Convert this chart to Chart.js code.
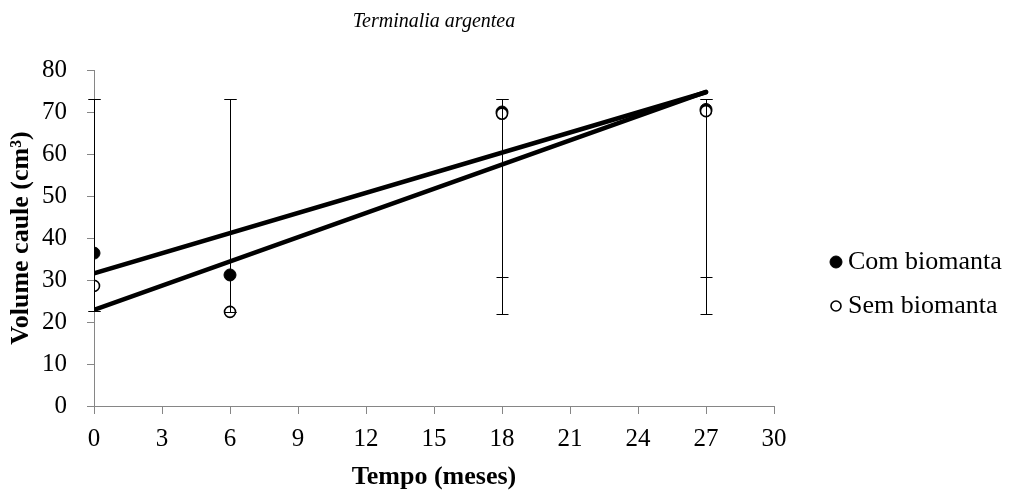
<!DOCTYPE html>
<html>
<head>
<meta charset="utf-8">
<script src="https://cdn.jsdelivr.net/npm/chart.js@4.4.0/dist/chart.umd.min.js"></script>
<style>
  html, body { margin: 0; padding: 0; background: #fff; }
  #wrap { width: 1011px; height: 495px; }
</style>
</head>
<body>
<div id="wrap"><canvas id="chart" width="1011" height="495"></canvas></div>
<script>
// ── DATA ──────────────────────────────────────────────────────────
const months     = [0, 6, 18, 27];
const comVolume  = [36.4, 31.2, 70.0, 70.6];
const semVolume  = [28.6, 22.4, 69.6, 70.2];

// error bar ends (low / high)
const comErrLow  = [22.6, 22.4, 30.7, 30.7];
const comErrHigh = [73.0, 73.0, 73.0, 73.0];
const semErrLow  = [22.6, 22.4, 21.9, 21.9];
const semErrHigh = [73.0, 73.0, 73.0, 73.0];

// linear trend lines, read at both ends
const trendMonths = [0, 27];
const comTrend    = [31.6, 74.7];
const semTrend    = [22.9, 74.8];

const xTicks = [0, 3, 6, 9, 12, 15, 18, 21, 24, 27, 30];
const yTicks = [0, 10, 20, 30, 40, 50, 60, 70, 80];

const SERIF = "'Liberation Serif', 'Times New Roman', serif";
const AXIS_GREY = '#868686';

const toPoints = (xs, ys) => xs.map((x, i) => ({ x, y: ys[i] }));

// ── PLUGINS ───────────────────────────────────────────────────────
const errorBars = {
  id: 'errorBars',
  afterDatasetsDraw(chart) {
    const { ctx, scales: { x, y } } = chart;
    ctx.save();
    ctx.strokeStyle = '#000';
    ctx.lineWidth = 1;
    chart.data.datasets.forEach(ds => {
      if (!ds.errLow) return;
      ds.data.forEach((p, i) => {
        const px = Math.round(x.getPixelForValue(p.x)) + 0.5;
        const lo = Math.round(y.getPixelForValue(ds.errLow[i])) + 0.5;
        const hi = Math.round(y.getPixelForValue(ds.errHigh[i])) + 0.5;
        ctx.beginPath();
        ctx.moveTo(px, lo); ctx.lineTo(px, hi);
        ctx.moveTo(px - 6, lo); ctx.lineTo(px + 6, lo);
        ctx.moveTo(px - 6, hi); ctx.lineTo(px + 6, hi);
        ctx.stroke();
      });
    });
    ctx.restore();
  }
};

const sideLegend = {
  id: 'sideLegend',
  afterDraw(chart) {
    const { ctx, chartArea } = chart;
    const items = chart.data.datasets.filter(ds => ds.legendRadius);
    ctx.save();
    ctx.font = `26px ${SERIF}`;
    ctx.textBaseline = 'middle';
    ctx.fillStyle = '#000';
    items.forEach((ds, i) => {
      const cx = chartArea.right + 62;
      const cy = chartArea.top + 192 + i * 44;
      ctx.beginPath();
      ctx.arc(cx, cy, ds.legendRadius, 0, Math.PI * 2);
      ctx.fillStyle = ds.pointBackgroundColor;
      ctx.fill();
      ctx.lineWidth = ds.pointBorderWidth;
      ctx.strokeStyle = ds.pointBorderColor;
      ctx.stroke();
      ctx.fillStyle = '#000';
      ctx.fillText(ds.label, cx + 12, cy);
    });
    ctx.restore();
  }
};

// title centred over the plot area
const topTitle = {
  id: 'topTitle',
  afterDraw(chart) {
    const { ctx, chartArea } = chart;
    ctx.save();
    ctx.font = `italic 20px ${SERIF}`;
    ctx.textAlign = 'center';
    ctx.textBaseline = 'middle';
    ctx.fillStyle = '#000';
    ctx.fillText('Terminalia argentea', (chartArea.left + chartArea.right) / 2, 22);
    ctx.restore();
  }
};

// ── CHART ─────────────────────────────────────────────────────────
new Chart(document.getElementById('chart'), {
  type: 'scatter',
  data: {
    datasets: [
      {
        label: 'Com biomanta',
        data: toPoints(months, comVolume),
        errLow: comErrLow, errHigh: comErrHigh,
        pointRadius: 6, pointBorderWidth: 1,
        pointBackgroundColor: '#000', pointBorderColor: '#000',
        legendRadius: 6,
        showLine: false,
        order: 1,
      },
      {
        label: 'Sem biomanta',
        data: toPoints(months, semVolume),
        errLow: semErrLow, errHigh: semErrHigh,
        pointRadius: 5.5, pointBorderWidth: 1.6,
        pointBackgroundColor: '#fff', pointBorderColor: '#000',
        legendRadius: 5,
        showLine: false,
        order: 0,
      },
      {
        label: 'trend com',
        data: toPoints(trendMonths, comTrend),
        showLine: true, pointRadius: 0,
        borderColor: '#000', borderWidth: 4.5, borderCapStyle: 'round',
        order: 2,
      },
      {
        label: 'trend sem',
        data: toPoints(trendMonths, semTrend),
        showLine: true, pointRadius: 0,
        borderColor: '#000', borderWidth: 4.5, borderCapStyle: 'round',
        order: 2,
      },
    ],
  },
  options: {
    responsive: false,
    animation: false,
    devicePixelRatio: 1,
    layout: { padding: { left: 0, right: 237, top: 70, bottom: 0 } },
    plugins: {
      legend: { display: false },
      tooltip: { enabled: false },
      title: { display: false },
    },
    scales: {
      x: {
        type: 'linear', min: 0, max: 30,
        afterBuildTicks: s => { s.ticks = xTicks.map(v => ({ value: v })); },
        afterFit: s => { s.height = 89; },
        grid: { drawOnChartArea: false, drawTicks: true, tickLength: 8, color: AXIS_GREY },
        border: { color: AXIS_GREY, width: 1 },
        ticks: { color: '#000', font: { family: SERIF, size: 25 }, padding: 10, maxRotation: 0 },
        title: {
          display: true, text: 'Tempo (meses)', color: '#000',
          font: { family: SERIF, size: 26, weight: 'bold' },
          padding: { top: 0, bottom: 2 },
        },
      },
      y: {
        type: 'linear', min: 0, max: 80,
        afterBuildTicks: s => { s.ticks = yTicks.map(v => ({ value: v })); },
        afterFit: s => { s.width = 94; },
        grid: { drawOnChartArea: false, drawTicks: true, tickLength: 7, color: AXIS_GREY },
        border: { color: AXIS_GREY, width: 1 },
        ticks: { color: '#000', font: { family: SERIF, size: 25 }, padding: 20 },
        title: {
          display: true, text: 'Volume caule (cm³)', color: '#000',
          font: { family: SERIF, size: 26, weight: 'bold' },
          padding: { top: 6, bottom: 0 },
        },
      },
    },
  },
  plugins: [errorBars, sideLegend, topTitle],
});
</script>
</body>
</html>
